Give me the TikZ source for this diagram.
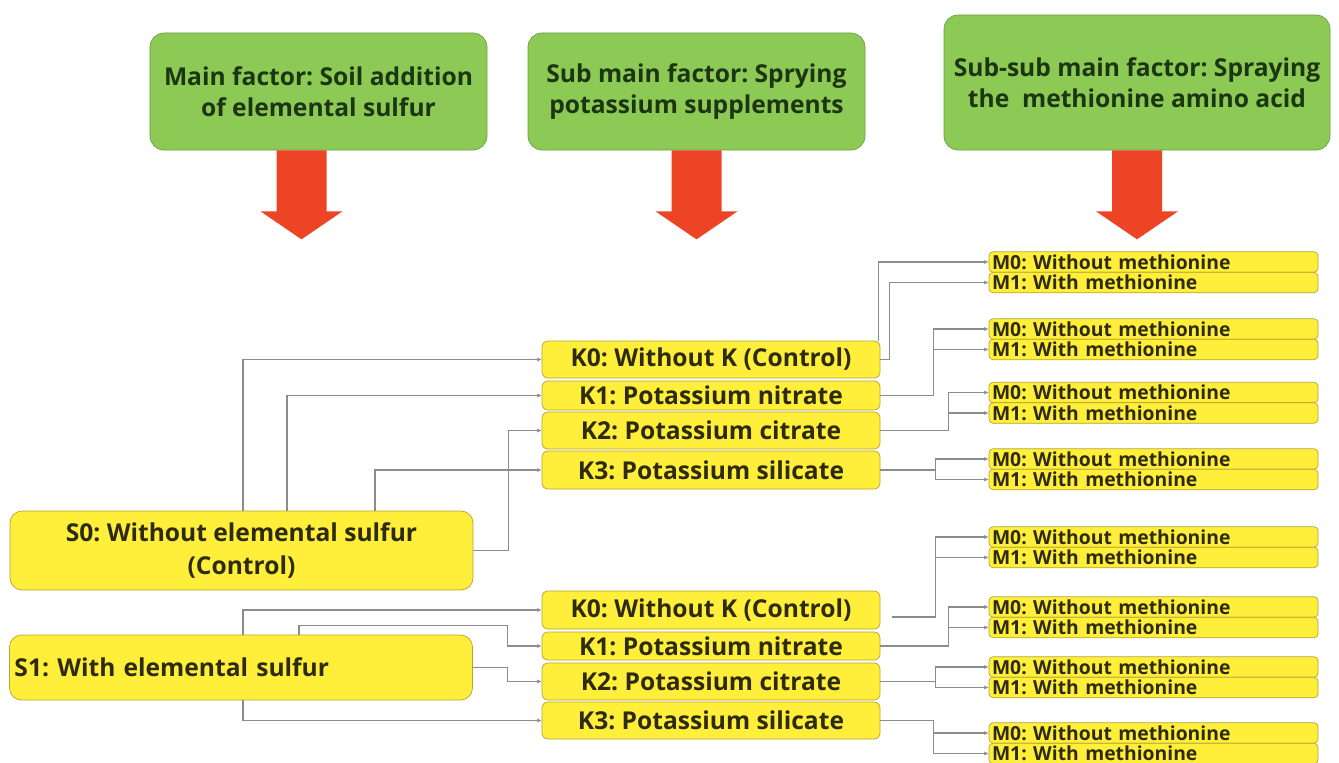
\documentclass[tikz,border=0pt]{standalone}
\usepackage{fontspec}
\setmainfont{Open Sans}
\usepackage{xcolor}
\definecolor{fgreen}{HTML}{8CC955}
\definecolor{fgreenline}{HTML}{6E9E45}
\definecolor{kyellow}{HTML}{FFEE3A}
\definecolor{kline}{HTML}{B3A534}
\definecolor{ared}{HTML}{EE4426}
\definecolor{lgray}{HTML}{8C8C8C}
\definecolor{tdark}{HTML}{2E2B0C}
\definecolor{tgreen}{HTML}{1C3512}
\usetikzlibrary{arrows.meta, calc}
\frenchspacing

\begin{document}
\begin{tikzpicture}[
    x=0.2mm, y=-0.2mm,
    factor/.style={draw=fgreenline, fill=fgreen, rounded corners=2.8mm, text=tgreen, align=center,
        font=\bfseries\fontsize{14}{17.5}\selectfont, minimum width=67.4mm, minimum height=23.4mm},
    sbox/.style={draw=kline, fill=kyellow, rounded corners=2.4mm, text=tdark,
        font=\bfseries\fontsize{14}{18.5}\selectfont, minimum width=92.6mm},
    kbox/.style={draw=kline, fill=kyellow, rounded corners=1.2mm, text=tdark,
        font=\bfseries\fontsize{14}{16}\selectfont, minimum width=67.6mm, inner ysep=0pt},
    mbox/.style={draw=kline, fill=kyellow, rounded corners=0.8mm, text=tdark,
        font=\bfseries\fontsize{11}{12}\selectfont, text width=64.6mm, inner xsep=0.6mm,
        inner ysep=0pt, minimum height=4.1mm, align=left},
    link/.style={draw=lgray, line width=0.6pt, -{Latex[length=2.5pt, width=2.5pt]}},
    bigarrow/.style={fill=ared}
    ]
    \useasboundingbox (0,0) rectangle (1339,763);

    % factors
    \node[factor] (g1) at (318.5,91.5) {Main factor: Soil addition\\of elemental sulfur};
    \node[factor] (g2) at (696.5,91.5) {Sub main factor: Sprying\\potassium supplements};
    \node[factor, minimum width=77.2mm, minimum height=27mm] (g3) at (1137,82.5)
        {Sub-sub main factor: Spraying\\the\ \ methionine amino acid};

    \foreach \g/\dx in {g1/-17, g2/0, g3/0}
        \fill[bigarrow] ($(\g.south)+(\dx-25,0)$) -- ++(50,0) -- ++(0,61) -- ++(16,0)
            -- ++(-41,28) -- ++(-41,-28) -- ++(16,0) -- cycle;

    % sulfur
    \node[sbox, minimum height=15.8mm, align=center] (s0) at (241.5,550.5)
        {S0: Without elemental sulfur\\(Control)};
    \node[sbox, minimum height=13mm, text width=90.6mm, inner xsep=1mm, align=left] (s1)
        at (241,667.5) {S1: With elemental sulfur};

    % potassium
    \node[kbox, minimum height=7.4mm] (ka0) at (711,359.5) {K0: Without K (Control)};
    \node[kbox, minimum height=5.8mm] (ka1) at (711,395.5) {K1: Potassium nitrate};
    \node[kbox, minimum height=7.4mm] (ka2) at (711,430.5) {K2: Potassium citrate};
    \node[kbox, minimum height=7.6mm] (ka3) at (711,470) {K3: Potassium silicate};

    \node[kbox, minimum height=7.6mm] (kb0) at (711,610) {K0: Without K (Control)};
    \node[kbox, minimum height=5.6mm] (kb1) at (711,646) {K1: Potassium nitrate};
    \node[kbox, minimum height=7.4mm] (kb2) at (711,681.5) {K2: Potassium citrate};
    \node[kbox, minimum height=7.4mm] (kb3) at (711,720.5) {K3: Potassium silicate};

    % methionine
    \foreach \n/\y in {a/262, b/329, c/392.5, d/459, e/537, f/607, g/667, h/733} {
        \node[mbox] (m\n0) at (1153.5,\y) {M0: Without methionine};
        \node[mbox] (m\n1) at (1153.5,\y+20.5) {M1: With methionine};
    }

    % S -> K
    \draw[link] ($(s0.north)+(1.5,0)$) |- (ka0.west);
    \draw[link] ($(s0.north)+(45.5,0)$) |- (ka1.west);
    \draw[link] (s0.east) -- ++(35,0) |- (ka2.west);
    \draw[link] ($(s0.north)+(133.5,0)$) |- (ka3.west);

    \draw[link] ($(s1.north)+(2,0)$) |- (kb0.west);
    \draw[link] ($(s1.north)+(58,0)$) -- ++(0,-9) -| ($(kb1.west)+(-34,0)$) -- (kb1.west);
    \draw[link] (s1.east) -| ($(kb2.west)+(-34,0)$) -- (kb2.west);
    \draw[link] ($(s1.south)+(2,0)$) |- (kb3.west);

    % K -> M
    \draw[link] ($(ka0.north east)+(-2,0)$) |- (ma0.west);
    \draw[link] (ka0.east) -- ++(9,0) |- (ma1.west);
    \draw[link] ($(kb0.east)+(12,7)$) -- ++(43,0) |- (me0.west);
    \draw[link] ($(kb0.east)+(12,7)$) -- ++(43,0) |- (me1.west);
    \foreach \k/\m/\dx in {ka1/b/53, ka2/c/68, ka3/d/55, kb1/f/68, kb2/g/55, kb3/h/53} {
        \draw[link] (\k.east) -- ++(\dx,0) |- (m\m0.west);
        \draw[link] (\k.east) -- ++(\dx,0) |- (m\m1.west);
    }
\end{tikzpicture}
\end{document}
